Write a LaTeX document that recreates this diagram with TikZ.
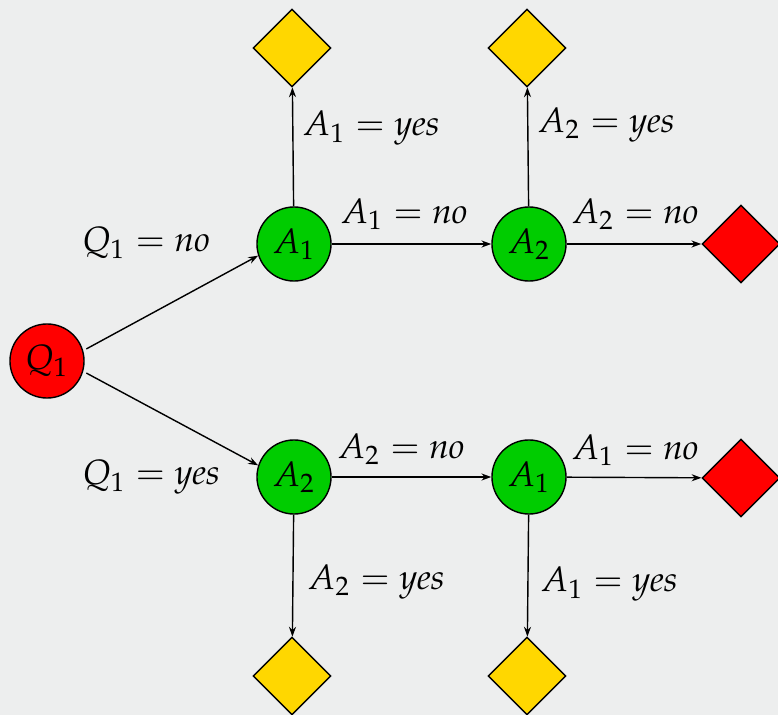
\documentclass[tikz,border=0pt]{standalone}
\usepackage{mathpazo}
\usepackage{xcolor}
\usepackage{tikz}
\usetikzlibrary{arrows.meta, shapes.geometric}
\definecolor{paper}{HTML}{EDEEEE}
\definecolor{askred}{HTML}{FF0000}
\definecolor{askgreen}{HTML}{00CC00}
\definecolor{leafgold}{HTML}{FFD700}

\begin{document}
\begin{tikzpicture}[x=0.01cm, y=-0.01cm,
    question/.style={circle, draw, fill=#1, inner sep=0pt, minimum size=0.74cm},
    leaf/.style={diamond, draw, fill=#1, inner sep=0pt, minimum size=0.78cm},
    branch/.style={-{Stealth[length=2.8pt, width=2pt]}, thin}]
    % background sheet
    \fill[paper] (0,0) rectangle (778,715);
    \useasboundingbox (0,0) rectangle (778,715);

    % questions
    \node[question=askred]   (q1)  at (47,361)  {$Q_1$};
    \node[question=askgreen] (a1u) at (294,244) {$A_1$};
    \node[question=askgreen] (a2u) at (529,244) {$A_2$};
    \node[question=askgreen] (a2d) at (294,477) {$A_2$};
    \node[question=askgreen] (a1d) at (529,477) {$A_1$};

    % outcomes
    \node[leaf=leafgold] (y1u) at (292,48)  {};
    \node[leaf=leafgold] (y2u) at (527,48)  {};
    \node[leaf=askred]   (nu)  at (741,244) {};
    \node[leaf=leafgold] (y2d) at (292,676) {};
    \node[leaf=leafgold] (y1d) at (527,676) {};
    \node[leaf=askred]   (nd)  at (741,478) {};

    % branches
    \draw[branch, shorten <=1pt] (q1.16) -- (a1u.198);
    \draw[branch, shorten <=1pt] (q1.-16) -- (a2d.162);
    \draw[branch] (a1u) -- (y1u);
    \draw[branch] (a1u) -- (a2u);
    \draw[branch] (a2u) -- (y2u);
    \draw[branch] (a2u) -- (nu);
    \draw[branch] (a2d) -- (a1d);
    \draw[branch] (a2d) -- (y2d);
    \draw[branch] (a1d) -- (nd);
    \draw[branch] (a1d) -- (y1d);

    % labels
    \node (lq1n)  at (146,243) {$Q_1 = \mathit{no}$};
    \node (lq1y)  at (151,477) {$Q_1 = \mathit{yes}$};
    \node (la1uy) at (371,128) {$A_1 = \mathit{yes}$};
    \node (la1un) at (404,214) {$A_1 = \mathit{no}$};
    \node (la2uy) at (606,125) {$A_2 = \mathit{yes}$};
    \node (la2un) at (635,214) {$A_2 = \mathit{no}$};
    \node (la2dn) at (401,449) {$A_2 = \mathit{no}$};
    \node (la1dn) at (635,450) {$A_1 = \mathit{no}$};
    \node (la2dy) at (376,582) {$A_2 = \mathit{yes}$};
    \node (la1dy) at (609,584) {$A_1 = \mathit{yes}$};
\end{tikzpicture}
\end{document}
